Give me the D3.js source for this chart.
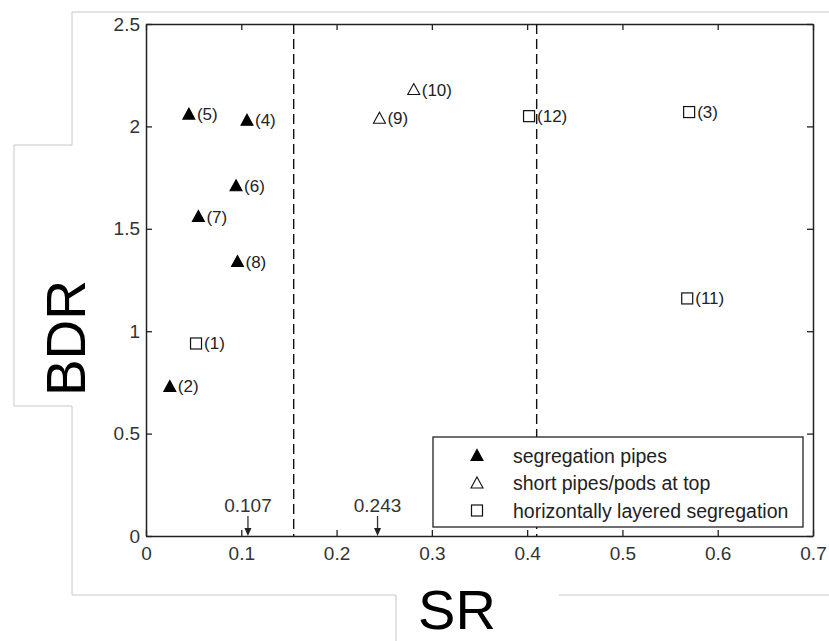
<!DOCTYPE html>
<html>
<head>
<meta charset="utf-8">
<script src="https://cdn.jsdelivr.net/npm/d3@7"></script>
<style>
  body { margin: 0; background: #fff; }
  svg text { font-family: "Liberation Sans", Arial, sans-serif; }
</style>
</head>
<body>
<div class="chart"></div>
<script>
'use strict';
(function() {
  // Data
  var labels = ['(1)', '(2)', '(3)', '(4)', '(5)', '(6)', '(7)', '(8)', '(9)', '(10)', '(11)', '(12)'];
  var srValues = [0.0525, 0.025, 0.570, 0.106, 0.045, 0.0945, 0.055, 0.096, 0.245, 0.281, 0.568, 0.402];
  var bdrValues = [0.94, 0.73, 2.07, 2.03, 2.06, 1.71, 1.56, 1.34, 2.04, 2.18, 1.16, 2.05];
  var groups = ['square', 'filled', 'square', 'filled', 'filled', 'filled', 'filled', 'filled', 'open', 'open', 'square', 'square'];
  var legendKeys = ['filled', 'open', 'square'];
  var legendNames = ['segregation pipes', 'short pipes/pods at top', 'horizontally layered segregation'];
  var xTicks = [0, 0.1, 0.2, 0.3, 0.4, 0.5, 0.6, 0.7];
  var yTicks = [0, 0.5, 1, 1.5, 2, 2.5];
  var dividers = [0.155, 0.41];
  var arrowValues = [0.107, 0.243];

  // Size
  var w = 829;
  var h = 641;
  var left = 146, right = 813, top = 24, bottom = 536;

  var svg = d3.select('.chart')
    .append('svg')
    .attr('width', w)
    .attr('height', h);

  // Gray outline around the figure
  svg.append('path')
    .attr('d', 'M829,12 H72 V145 H14 V406 H72 V595 H396 V641 M559,595 H829')
    .attr('fill', 'none')
    .attr('stroke', '#c8c8c8')
    .attr('stroke-width', 1);

  var xScale = d3.scaleLinear().domain([0, 0.7]).range([left, right]);
  var yScale = d3.scaleLinear().domain([0, 2.5]).range([bottom, top]);

  var fmt = function(d) { return String(d); };

  // Axes (ticks point inwards)
  var xAxis = d3.axisBottom(xScale).tickValues(xTicks).tickFormat(fmt).tickSizeInner(-6).tickSizeOuter(0).tickPadding(11);
  var yAxis = d3.axisLeft(yScale).tickValues(yTicks).tickFormat(fmt).tickSizeInner(-6).tickSizeOuter(0).tickPadding(6);
  var xTop = d3.axisTop(xScale).tickValues(xTicks).tickFormat('').tickSizeInner(-6).tickSizeOuter(0);
  var yRight = d3.axisRight(yScale).tickValues(yTicks).tickFormat('').tickSizeInner(-6).tickSizeOuter(0);

  svg.append('g').attr('class', 'axis').attr('transform', 'translate(0,' + bottom + ')').call(xAxis);
  svg.append('g').attr('class', 'axis').attr('transform', 'translate(' + left + ',0)').call(yAxis);
  svg.append('g').attr('class', 'axis').attr('transform', 'translate(0,' + top + ')').call(xTop);
  svg.append('g').attr('class', 'axis').attr('transform', 'translate(' + right + ',0)').call(yRight);

  svg.selectAll('.axis path').attr('stroke', '#222').attr('stroke-width', 1.5);
  svg.selectAll('.axis line').attr('stroke', '#222').attr('stroke-width', 1.3);
  svg.selectAll('.axis text').attr('font-size', 19).attr('fill', '#333')
    .attr('font-family', '"Liberation Sans", Arial, sans-serif');

  // Dashed dividers
  svg.append('g')
    .selectAll('line')
    .data(dividers)
    .enter()
    .append('line')
    .attr('x1', function(d) { return xScale(d); })
    .attr('x2', function(d) { return xScale(d); })
    .attr('y1', top)
    .attr('y2', bottom)
    .attr('stroke', '#111')
    .attr('stroke-width', 1.4)
    .attr('stroke-dasharray', '10,5');

  // Marker drawing
  var drawMarker = function(sel, kind) {
    if (kind === 'square') {
      sel.append('rect')
        .attr('x', -5.5).attr('y', -5.5)
        .attr('width', 11).attr('height', 11)
        .attr('fill', 'none').attr('stroke', '#111').attr('stroke-width', 1.2);
    } else {
      sel.append('path')
        .attr('d', 'M0,-6 L6,5 L-6,5 Z')
        .attr('fill', kind === 'filled' ? '#000' : 'none')
        .attr('stroke', kind === 'filled' ? '#000' : '#111')
        .attr('stroke-width', 1.1);
    }
  };

  var points = svg.append('g')
    .selectAll('g')
    .data(srValues)
    .enter()
    .append('g')
    .attr('transform', function(d, i) {
      return 'translate(' + xScale(d) + ',' + yScale(bdrValues[i]) + ')';
    });

  points.each(function(d, i) {
    drawMarker(d3.select(this), groups[i]);
  });

  points.append('text')
    .text(function(d, i) { return labels[i]; })
    .attr('x', 8)
    .attr('y', 6)
    .attr('font-size', 17)
    .attr('fill', '#222');

  // Arrow annotations
  var arrows = svg.append('g')
    .selectAll('g')
    .data(arrowValues)
    .enter()
    .append('g')
    .attr('transform', function(d) { return 'translate(' + xScale(d) + ',0)'; });

  arrows.append('line')
    .attr('x1', 0).attr('x2', 0)
    .attr('y1', 516).attr('y2', 530)
    .attr('stroke', '#333').attr('stroke-width', 1.3);
  arrows.append('path')
    .attr('d', 'M-3.5,528 L3.5,528 L0,536 Z')
    .attr('fill', '#222');
  arrows.append('text')
    .text(function(d) { return String(d); })
    .attr('x', 0)
    .attr('y', 512)
    .attr('text-anchor', 'middle')
    .attr('font-size', 19)
    .attr('fill', '#333');

  // Legend
  var legend = svg.append('g').attr('transform', 'translate(433,437)');
  legend.append('rect')
    .attr('width', 370).attr('height', 90)
    .attr('fill', '#fff').attr('stroke', '#222').attr('stroke-width', 1.3);

  var rows = legend.selectAll('g')
    .data(legendKeys)
    .enter()
    .append('g')
    .attr('transform', function(d, i) { return 'translate(0,' + (18.5 + i * 27.5) + ')'; });

  rows.each(function(d) {
    var m = d3.select(this).append('g').attr('transform', 'translate(44,0)');
    drawMarker(m, d);
  });
  rows.append('text')
    .text(function(d, i) { return legendNames[i]; })
    .attr('x', 80)
    .attr('y', 7)
    .attr('font-size', 19.5)
    .attr('fill', '#222');

  // Axis titles
  svg.append('text')
    .text('SR')
    .attr('x', 457)
    .attr('y', 629)
    .attr('text-anchor', 'middle')
    .attr('font-size', 56)
    .attr('fill', '#000');

  svg.append('text')
    .text('BDR')
    .attr('transform', 'translate(85,338) rotate(-90)')
    .attr('text-anchor', 'middle')
    .attr('font-size', 55)
    .attr('fill', '#000');
})();
</script>
</body>
</html>
